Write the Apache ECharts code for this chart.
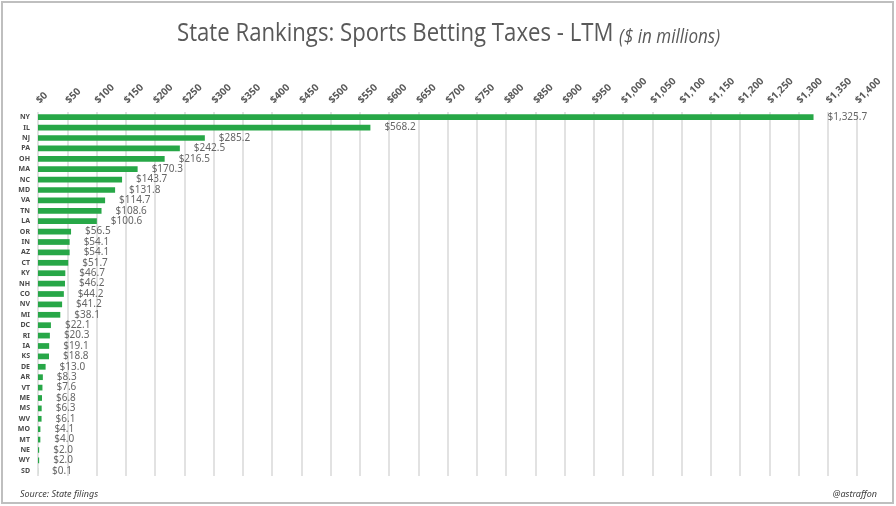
<!DOCTYPE html>
<html>
<head>
<meta charset="utf-8">
<script src="https://cdn.jsdelivr.net/npm/echarts@6/dist/echarts.min.js"></script>
<style>
  html, body { margin: 0; padding: 0; background: #fff; }
  #chart { width: 896px; height: 506px; }
</style>
</head>
<body>
<div id="chart"></div>
<script>
// 州名（按税收从高到低）
const states = ['NY', 'IL', 'NJ', 'PA', 'OH', 'MA', 'NC', 'MD', 'VA', 'TN', 'LA', 'OR', 'IN', 'AZ', 'CT', 'KY', 'NH', 'CO', 'NV', 'MI', 'DC', 'RI', 'IA', 'KS', 'DE', 'AR', 'VT', 'ME', 'MS', 'WV', 'MO', 'MT', 'NE', 'WY', 'SD']

// 体育博彩税收（百万美元）
const taxes = [1325.7, 568.2, 285.2, 242.5, 216.5, 170.3, 143.7, 131.8, 114.7, 108.6, 100.6, 56.5, 54.1, 54.1, 51.7, 46.7, 46.2, 44.2, 41.2, 38.1, 22.1, 20.3, 19.1, 18.8, 13.0, 8.3, 7.6, 6.8, 6.3, 6.1, 4.1, 4.0, 2.0, 2.0, 0.1]

// 坐标轴范围
const axisMin = 0
const axisMax = 1400
const axisStep = 50

const titleMain = 'State Rankings: Sports Betting Taxes - LTM'
const titleSub = '($ in millions)'

const fmtMoney = (v, digits) =>
  '$' + v.toLocaleString('en-US', { minimumFractionDigits: digits, maximumFractionDigits: digits })

// 标题字体较窄，用 canvas 测量后横向压缩
const titleFont = '26px "Open Sans"'
const subFont = 'italic 20px "Open Sans"'
const measureCtx = document.createElement('canvas').getContext('2d')
measureCtx.font = titleFont
const mainW = measureCtx.measureText(titleMain + ' ').width
measureCtx.font = subFont
const subW = measureCtx.measureText(titleSub).width
const titleScale = 543 / (mainW + subW)

const chartInstance = echarts.init(document.getElementById('chart'))

const option = {
  backgroundColor: '#fff',
  animation: false,
  graphic: [
    {
      type: 'rect',
      shape: { x: 2, y: 2, width: 891, height: 501 },
      style: { fill: 'none', stroke: '#bfbfbf', lineWidth: 2 }
    },
    {
      type: 'text',
      x: 448.5,
      y: 47,
      scaleX: titleScale,
      style: {
        text: '{a|' + titleMain + ' }{b|' + titleSub + '}',
        textAlign: 'center',
        textVerticalAlign: 'bottom',
        rich: {
          a: { font: titleFont, fill: '#595959', verticalAlign: 'bottom' },
          b: { font: subFont, fill: '#595959', verticalAlign: 'bottom' }
        }
      }
    },
    {
      type: 'text',
      left: 20,
      top: 490,
      style: { text: 'Source: State filings', font: 'italic 9px "Noto Sans"', fill: '#404040' }
    },
    {
      type: 'text',
      right: 19,
      top: 490,
      style: { text: '@astraffon', font: 'italic 9px "Noto Sans"', fill: '#404040' }
    }
  ],
  grid: {
    left: 38,
    right: 39,
    top: 112,
    bottom: 30
  },
  xAxis: {
    type: 'value',
    position: 'top',
    min: axisMin,
    max: axisMax,
    interval: axisStep,
    axisLine: { show: false },
    axisTick: { show: false },
    axisLabel: {
      rotate: -45,
      align: 'left',
      verticalAlign: 'middle',
      margin: 10,
      fontFamily: 'Noto Sans',
      fontSize: 10,
      fontWeight: 'bold',
      color: '#595959',
      formatter: v => fmtMoney(v, 0)
    },
    splitLine: { lineStyle: { color: '#d9d9d9', width: 1.5 } }
  },
  yAxis: {
    type: 'category',
    inverse: true,
    data: states,
    axisLine: { show: false },
    axisTick: { show: false },
    axisLabel: {
      margin: 8,
      fontFamily: 'Noto Sans',
      fontSize: 7,
      fontWeight: 'bold',
      color: '#4a4a4a'
    }
  },
  series: [
    {
      name: 'Taxes',
      type: 'bar',
      data: taxes,
      barWidth: '55%',
      itemStyle: { color: '#27a747' },
      label: {
        show: true,
        position: 'right',
        distance: 14,
        fontFamily: 'Noto Sans',
        fontSize: 10,
        color: '#666666',
        formatter: p => fmtMoney(p.value, 1)
      }
    }
  ]
}

chartInstance.setOption(option)
</script>
</body>
</html>
